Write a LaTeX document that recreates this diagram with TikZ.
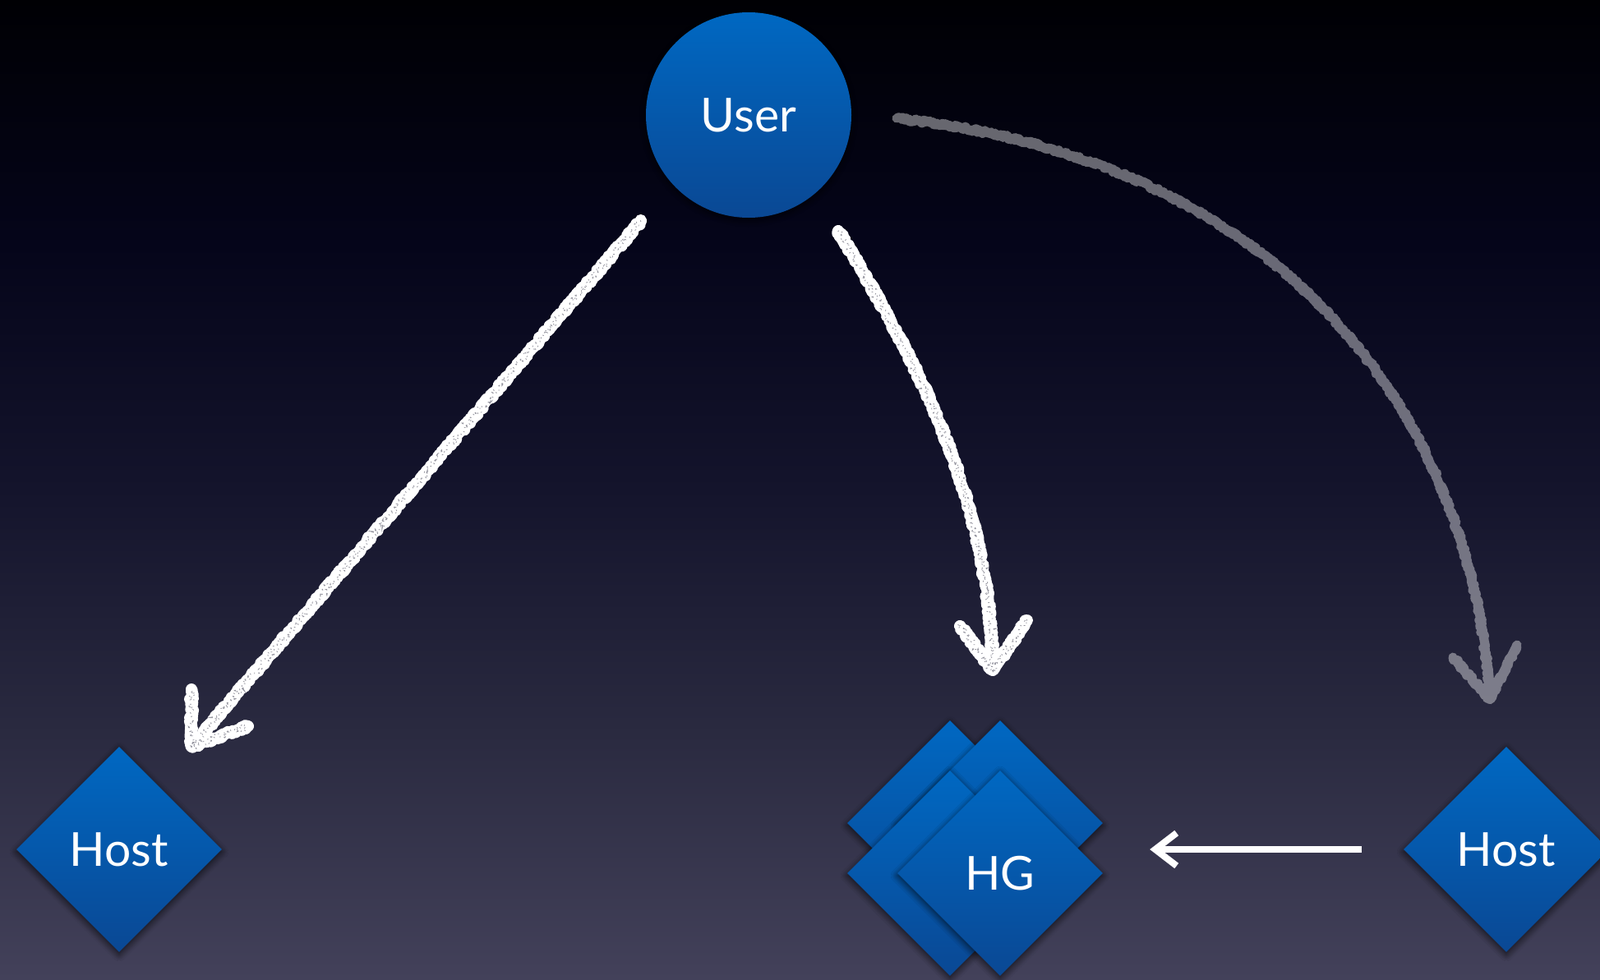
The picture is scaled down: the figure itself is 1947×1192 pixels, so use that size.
\documentclass[tikz,border=0pt]{standalone}
\usepackage{fontspec}
\setmainfont{Lato}
\usetikzlibrary{shapes.geometric,arrows.meta,decorations.pathmorphing,calc,shadows.blur}
\definecolor{bgT}{HTML}{000004}
\definecolor{bgQa}{HTML}{05051A}
\definecolor{bgQb}{HTML}{14142C}
\definecolor{bgQc}{HTML}{2A2A40}
\definecolor{bgB}{HTML}{43415A}
\definecolor{blueTop}{HTML}{0068C2}
\definecolor{blueBot}{HTML}{0A4894}
\pgfdeclareverticalshading{bgshade}{100bp}{color(0bp)=(bgB); color(25bp)=(bgB); color(37.5bp)=(bgQc); color(50bp)=(bgQb); color(62.5bp)=(bgQa); color(75bp)=(bgT); color(100bp)=(bgT)}
\tikzset{
  bluebox/.style={top color=blueTop, bottom color=blueBot, draw=none, text=white,
    font=\fontsize{57}{62}\selectfont, inner sep=0pt,
    blur shadow={shadow blur steps=10, shadow xshift=0pt, shadow yshift=-3pt, shadow blur radius=8pt, shadow opacity=70}},
  usernode/.style={bluebox, circle, minimum size=250pt},
  dia/.style={bluebox, diamond, shape aspect=1, minimum width=250pt, minimum height=250pt},
  chalkcore/.style={draw=white, line width=12pt, line cap=round, line join=round},
  chalkrough/.style={draw=white, line width=14pt, line cap=round, line join=round,
    decorate, decoration={random steps, segment length=1.5pt, amplitude=2.2pt}},
  chalkspeck/.style={draw=bgQb, line width=1.8pt, opacity=0.45, dash pattern=on 0.8pt off 4.5pt,
    decorate, decoration={random steps, segment length=2pt, amplitude=4.5pt}},
  flatarrow/.style={draw=white, line width=8pt, -{Straight Barb[length=26pt, width=40pt]}},
}
\begin{document}
\begin{tikzpicture}[x=1pt,y=-1pt]
\useasboundingbox (0,0) rectangle (1947,1192);
\clip (0,0) rectangle (1947,1192);
\shade[shading=bgshade] (0,0) rectangle (1947,1192);

% nodes
\node[usernode] (user) at (911,140) {User};
\node[dia] (hostL) at (145,1034) {Host};
\node[dia] (hostR) at (1833,1034) {Host};
\node[dia] (hgA) at (1156,1002) {};
\node[dia] (hgB) at (1217,1002) {};
\node[dia] (hgC) at (1156,1063) {};
\node[dia] (hg) at (1217,1063) {HG};

% left chalk arrow
\coordinate (lS) at ($(user)+(-131,129)$);
\coordinate (lT) at ($(hostL)+(88,-125)$);
\foreach \st in {chalkcore,chalkrough,chalkspeck}
  \draw[\st] (lS) -- (lT) (lT) -- ++(0,-70) (lT) -- ++(69,-25);

% middle chalk arrow
\coordinate (mS) at ($(user)+(109,141)$);
\coordinate (mT) at ($(hgB)+(-9,-186)$);
\foreach \st in {chalkcore,chalkrough,chalkspeck}
  \draw[\st] (mS) .. controls ($(mS)+(90,149)$) and ($(mT)+(-3,-216)$) .. (mT)
    (mT) -- ++(-40,-54) (mT) -- ++(42,-61);

% right faded chalk arrow
\coordinate (rS) at ($(user)+(180,4)$);
\coordinate (rT) at ($(hostR)+(-20,-183)$);
\begin{scope}[transparency group, opacity=0.4]
\draw[chalkcore, line width=9pt] (rS) .. controls ($(rS)+(469,51)$) and ($(rT)+(-23,-351)$) .. (rT)
    (rT) -- ++(-45,-51) (rT) -- ++(33,-66);
\draw[chalkrough, line width=11pt] (rS) .. controls ($(rS)+(469,51)$) and ($(rT)+(-23,-351)$) .. (rT)
    (rT) -- ++(-45,-51) (rT) -- ++(33,-66);
\end{scope}

% host to HG arrow
\draw[flatarrow, shorten <=51pt, shorten >=57pt] (hostR.west) -- (hostR.west -| hgB.east);
\end{tikzpicture}
\end{document}
